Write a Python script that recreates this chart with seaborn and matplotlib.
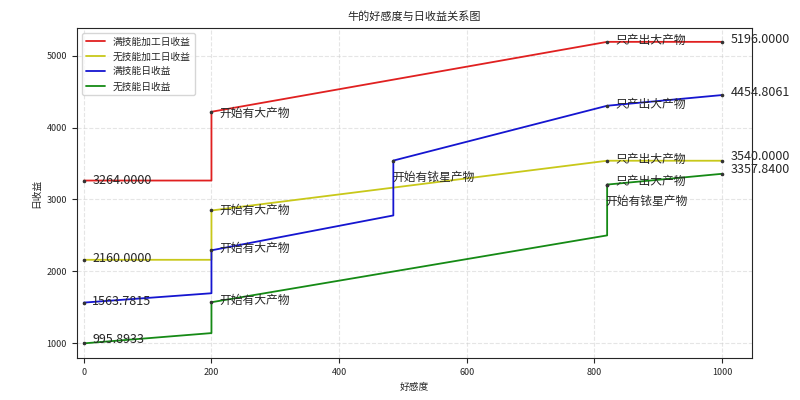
import matplotlib
matplotlib.use("Agg")
import matplotlib.pyplot as plt
import seaborn as sns
import pandas as pd

sns.set_style("ticks")
plt.rcParams['font.family'] = ['Noto Sans CJK SC', 'DejaVu Sans']

names = ["满技能加工日收益", "无技能加工日收益", "满技能日收益", "无技能日收益"]
colors = ["#e02020", "#c8c81a", "#1515d0", "#158a15"]
xs = [
    [0, 200, 200, 820, 1000],
    [0, 200, 200, 820, 1000],
    [0, 200, 200, 485, 485, 820, 1000],
    [0, 200, 200, 820, 820, 1000],
]
ys = [
    [3264.0, 3264.0, 4222, 5196.0, 5196.0],
    [2160.0, 2160.0, 2847, 3540.0, 3540.0],
    [1563.7815, 1694, 2292, 2778, 3542, 4306, 4454.8061],
    [995.8933, 1139, 1569, 2500, 3208, 3357.84],
]
notes = [
    (0, 3264.0, "3264.0000", 6, 0, 9),
    (200, 4222, "开始有大产物", 6, -1, 8.5),
    (820, 5196.0, "只产出大产物", 6, 1, 8.5),
    (1000, 5196.0, "5196.0000", 6, 2, 9),
    (0, 2160.0, "2160.0000", 6, 1, 9),
    (200, 2847, "开始有大产物", 6, 0, 8.5),
    (820, 3540.0, "只产出大产物", 6, 1, 8.5),
    (1000, 3540.0, "3540.0000", 6, 3, 9),
    (0, 1563.7815, "1563.7815", 6, 1, 9),
    (200, 2292, "开始有大产物", 6, 1, 8.5),
    (485, 3542, "开始有铱星产物", -1, -12, 8.5),
    (820, 4306, "只产出大产物", 6, 1, 8.5),
    (1000, 4454.8061, "4454.8061", 6, 2, 9),
    (0, 995.8933, "995.8933", 6, 3, 9),
    (200, 1569, "开始有大产物", 6, 1, 8.5),
    (820, 3208, "只产出大产物", 6, 2, 8.5),
    (820, 3208, "开始有铱星产物", -1, -12, 8.5),
    (1000, 3357.84, "3357.8400", 6, 3, 9),
]

fig, ax = plt.subplots(figsize=(8, 4), dpi=100)
for n, c, x, y in zip(names, colors, xs, ys):
    df = pd.DataFrame({"x": x, "y": y})
    sns.lineplot(data=df, x="x", y="y", sort=False, estimator=None, color=c, label=n, lw=1.3, ax=ax)
for x, y, t, dx, dy, sz in notes:
    ax.plot([x], [y], 'o', color='#333333', ms=1.6)
    ax.annotate(t, (x, y), xytext=(dx, dy), textcoords='offset points', fontsize=sz, va='center', ha='left')

ax.set_title("牛的好感度与日收益关系图", fontsize=8)
ax.set_xlabel("好感度", fontsize=7)
ax.set_ylabel("日收益", fontsize=7)
ax.tick_params(labelsize=6.5)
ax.set_xlim(-11, 1047)
ax.set_ylim(792, 5389)
ax.grid(True, linestyle='--', alpha=0.5)
ax.legend(loc='upper left', fontsize=7)
fig.subplots_adjust(left=0.096, right=0.94, top=0.93, bottom=0.105)
fig.savefig("out.png")
